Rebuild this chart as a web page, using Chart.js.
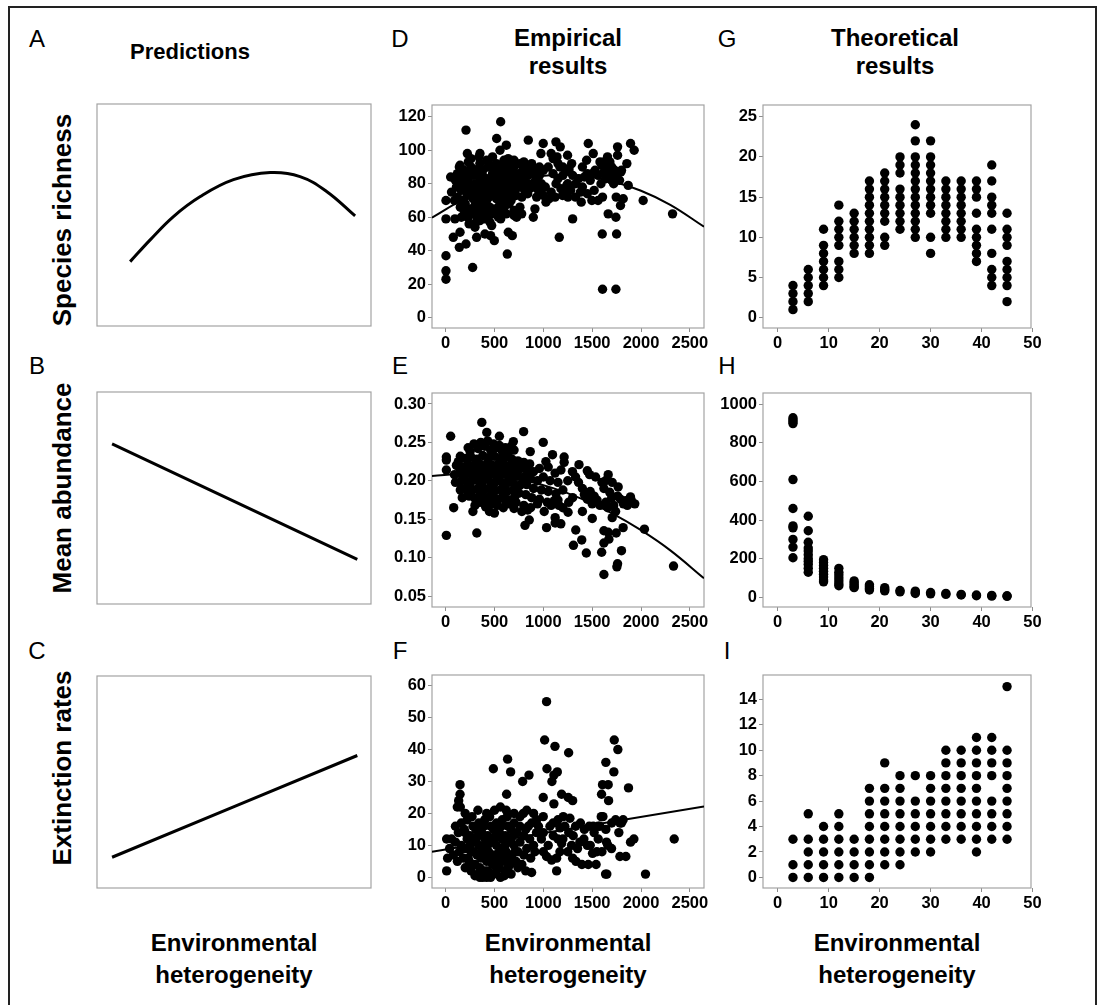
<!DOCTYPE html>
<html>
<head>
<meta charset="utf-8">
<script src="https://cdn.jsdelivr.net/npm/chart.js@4.4.1/dist/chart.umd.min.js"></script>
<style>
  body { margin: 0; background: #fff; }
  #fig { position: relative; width: 1100px; height: 1005px; overflow: hidden; background: #fff;
         font-family: "Liberation Sans", Arial, sans-serif; color: #000; }
  .frame { position: absolute; left: 8px; top: 6px; width: 1085px; height: 1020px; border: 2px solid #222; }
  .t { position: absolute; transform: translate(-50%, -50%); line-height: 1; white-space: nowrap; }
  .letter { font-size: 24px; }
  .head { font-size: 24px; font-weight: bold; }
  .row { font-size: 26px; font-weight: bold; transform: translate(-50%, -50%) rotate(-90deg); }
  canvas { position: absolute; }
</style>
</head>
<body>
<div id="fig">
  <div class="frame"></div>
  <div class="t letter" style="left:37px;top:39px">A</div>
  <div class="t letter" style="left:400px;top:39px">D</div>
  <div class="t letter" style="left:727px;top:39px">G</div>
  <div class="t letter" style="left:37px;top:366px">B</div>
  <div class="t letter" style="left:400px;top:366px">E</div>
  <div class="t letter" style="left:727px;top:366px">H</div>
  <div class="t letter" style="left:37px;top:651px">C</div>
  <div class="t letter" style="left:400px;top:651px">F</div>
  <div class="t letter" style="left:727px;top:651px">I</div>

  <div class="t head" style="left:190px;top:52px;font-size:22px">Predictions</div>
  <div class="t head" style="left:568px;top:38px">Empirical</div>
  <div class="t head" style="left:568px;top:66px">results</div>
  <div class="t head" style="left:895px;top:38px">Theoretical</div>
  <div class="t head" style="left:895px;top:66px">results</div>

  <div class="t row" style="left:62px;top:220px">Species richness</div>
  <div class="t row" style="left:62px;top:488px">Mean abundance</div>
  <div class="t row" style="left:62px;top:768px">Extinction rates</div>

  <div class="t head" style="left:234px;top:943px">Environmental</div>
  <div class="t head" style="left:234px;top:975px">heterogeneity</div>
  <div class="t head" style="left:568px;top:943px">Environmental</div>
  <div class="t head" style="left:568px;top:975px">heterogeneity</div>
  <div class="t head" style="left:897px;top:943px">Environmental</div>
  <div class="t head" style="left:897px;top:975px">heterogeneity</div>
</div>
<script>
// ---- predictions (A-C), unitless 0..10 boxes
const predRichness = [[1.21, 2.9], [1.94, 3.88], [2.79, 4.93], [3.77, 5.83], [4.98, 6.59], [6.32, 6.91], [7.41, 6.73], [8.38, 6.06], [9.42, 4.96]];
const predAbundance = [[0.55, 7.55], [9.5, 2.1]];
const predExtinction = [[0.55, 1.45], [9.5, 6.25]];

// ---- empirical (D-F): [heterogeneity, value]
const richnessEmp = [
  [208,112],[563,117],[522,107],[222,98],[351,98],[341,96],[621,103],[556,100],[597,94],[846,106],[999,104],[975,98],
  [1129,105],[1173,102],[1248,97],[1262,89],[1460,104],[1511,98],[1443,94],[1657,96],[1760,102],[1760,97],[1893,104],
  [1930,100],[1855,92],[1794,87],[1681,93],[1869,79],[2022,70],[2323,62],[1818,71],[1790,67],[1746,72],[1743,60],
  [1750,50],[1603,50],[1664,62],[1606,72],[1606,17],[1743,17],[1497,70],[1388,69],[1300,59],[1163,48],[1252,72],
  [1197,73],[914,65],[897,60],[931,72],[1027,69],[726,60],[778,62],[641,51],[682,49],[631,38],[563,59],[498,46],
  [460,49],[402,50],[317,48],[276,30],[471,55],[454,57],[396,59],[300,56],[225,60],[208,44],[140,42],[147,51],[78,48],
  [95,59],[188,64],[3,59],[3,70],[3,37],[3,28],[3,23],[51,84],[147,91],[170,88],[232,93],
  [140,90],[300,88],[340,89],[380,88],[430,90],[460,91],[520,92],[560,89],[610,88],[650,91],[700,90],[760,92],[820,91],
  [870,89],[930,88],[1050,90],[1100,95],[1150,92],[1200,90],
  [100,82],[150,85],[180,84],[230,83],[280,85],[330,86],[390,84],[440,83],[480,86],[530,86],[580,84],[630,86],[680,85],
  [750,86],[800,84],[840,85],[900,86],[960,85],[1000,88],[1100,86],[1150,83],[1200,85],[1260,88],[1290,92],
  [110,78],[170,80],[200,80],[250,79],[300,80],[350,82],[400,80],[450,79],[500,82],[550,80],[600,79],[650,82],[700,80],
  [730,82],[780,80],[850,80],[920,82],[980,80],[1020,78],[1130,80],[1240,79],
  [160,76],[210,77],[260,76],[310,77],[360,78],[410,76],[460,76],[510,77],[560,77],[610,76],[660,77],[710,76],[760,78],
  [810,76],[860,77],[900,78],[950,76],[1080,75],[1180,77],
  [120,72],[170,70],[220,73],[250,74],[280,71],[320,74],[370,72],[420,70],[470,73],[520,71],[570,74],[620,72],[670,70],
  [720,73],[780,72],[840,74],[1000,73],[1060,71],[1120,72],[1230,74],
  [60,75],[90,70],[150,66],[200,68],[250,65],[300,67],[330,68],[350,64],[400,68],[450,66],[500,65],[550,67],[600,66],
  [650,68],[700,64],[760,66],
  [230,60],[270,64],[280,62],[320,58],[380,61],[430,59],[480,62],[540,60],[700,61],[240,56],[300,54],
  [260,95],[420,94],[480,96],[640,95],[700,94],[800,93],[880,92],[120,86],[190,88],[260,90],[350,92],[500,88],[590,91],
  [680,88],[790,88],[850,86],[420,82],[470,82],[520,80],[570,82],[620,80],[670,78],[720,78],[240,86],[330,78],[390,74],
  [440,72],[490,74],[540,74],[590,70],[640,74],[690,74],[360,70],[410,64],[460,62],[520,63],[580,63],[620,62],[300,62],
  [350,58],[200,62],[160,60],
  [1300,85],[1330,80],[1360,83],[1400,78],[1420,84],[1450,86],[1480,82],[1500,86],[1530,88],[1560,85],[1590,80],
  [1600,91],[1620,87],[1640,83],[1660,89],[1680,86],[1700,82],[1720,80],[1730,88],[1750,84],[1780,82],[1400,90],
  [1380,75],[1800,88],[1620,93],[1700,90],[930,80],[960,90],[1080,98],[1140,96],[1170,90],[1250,80],[1280,76],
  [1330,72],[1450,74],[1520,76],[1560,70],[1580,93]
];
const richnessFit = [[-140,59.7],[200,71.2],[500,78.5],[800,83.1],[1100,85.2],[1400,84.7],[1700,81.5],[2000,75.8],[2300,67.4],[2645,54.3]];

const abundanceEmp = [
  [51,0.258],[370,0.276],[798,0.264],[999,0.250],[421,0.263],[7,0.129],[7,0.231],[7,0.227],[7,0.214],[82,0.165],
  [319,0.132],[448,0.160],[499,0.158],[279,0.160],[812,0.142],[856,0.149],[1033,0.139],[1009,0.160],[1121,0.152],
  [1179,0.144],[1121,0.145],[1253,0.159],[1308,0.116],[1332,0.136],[1393,0.123],[1440,0.106],[1501,0.151],[1597,0.107],
  [1620,0.078],[1620,0.119],[1671,0.124],[1664,0.133],[1620,0.135],[1746,0.132],[1760,0.092],[1753,0.088],[1800,0.109],
  [1817,0.139],[1705,0.152],[2035,0.137],[2333,0.089],[1936,0.170],[1892,0.179],[1841,0.174],[1766,0.192],[1705,0.198],
  [1664,0.208],[1637,0.200],[1535,0.205],[1474,0.208],[1450,0.213],[1365,0.221],[1298,0.212],[1213,0.224],[1094,0.234],
  [1213,0.231],[1026,0.225],[866,0.238],[693,0.251],[550,0.258],
  [250,0.238],[330,0.242],[400,0.245],[460,0.240],[520,0.243],[580,0.238],[640,0.236],[700,0.240],
  [150,0.232],[200,0.229],[260,0.231],[320,0.228],[380,0.233],[440,0.230],[500,0.232],[560,0.229],[620,0.231],[680,0.228],
  [740,0.226],[800,0.224],[860,0.222],
  [110,0.220],[170,0.218],[230,0.221],[290,0.219],[350,0.222],[410,0.218],[470,0.221],[530,0.219],[590,0.222],[650,0.218],
  [710,0.220],[770,0.216],[830,0.214],[900,0.212],[960,0.216],[1050,0.218],[1120,0.210],[1180,0.214],
  [90,0.208],[140,0.210],[200,0.212],[260,0.209],[320,0.211],[380,0.208],[440,0.212],[500,0.209],[560,0.211],[620,0.208],
  [680,0.210],[740,0.206],[800,0.205],[870,0.203],[940,0.200],[1000,0.205],[1070,0.200],[1150,0.198],[1250,0.200],
  [100,0.198],[160,0.200],[220,0.198],[280,0.201],[340,0.199],[400,0.202],[460,0.198],[520,0.200],[580,0.197],[640,0.199],
  [700,0.196],[760,0.194],[830,0.195],[900,0.190],[980,0.188],[1050,0.186],[1130,0.183],[1200,0.188],
  [150,0.188],[210,0.190],[270,0.187],[330,0.190],[390,0.188],[450,0.191],[510,0.187],[570,0.189],[630,0.186],[690,0.188],
  [750,0.184],[820,0.182],[880,0.178],[960,0.176],[1040,0.172],[1110,0.174],[1160,0.168],
  [170,0.178],[240,0.180],[300,0.177],[360,0.181],[420,0.178],[480,0.180],[540,0.176],[600,0.179],[660,0.175],[720,0.172],
  [800,0.168],[870,0.165],[940,0.170],
  [300,0.168],[350,0.172],[410,0.166],[470,0.170],[530,0.168],[590,0.165],[650,0.170],[700,0.164],[780,0.160],[840,0.162],
  [130,0.225],[230,0.243],[290,0.248],[360,0.250],[430,0.252],[490,0.248],[550,0.246],[610,0.243],[670,0.245],[190,0.205],
  [250,0.195],[310,0.203],[370,0.196],[430,0.204],[490,0.195],[550,0.204],[610,0.193],[670,0.202],[730,0.212],[790,0.198],
  [850,0.208],[250,0.215],[310,0.225],[370,0.215],[430,0.224],[490,0.214],[550,0.224],[610,0.215],[670,0.222],[230,0.185],
  [350,0.185],[470,0.184],[590,0.183],[710,0.180],[160,0.190],[400,0.170],[520,0.176],[620,0.172],
  [1330,0.205],[1360,0.198],[1400,0.190],[1420,0.182],[1450,0.176],[1480,0.186],[1500,0.170],[1520,0.180],[1550,0.175],
  [1580,0.168],[1600,0.198],[1620,0.190],[1640,0.172],[1660,0.165],[1680,0.185],[1700,0.178],[1720,0.168],[1740,0.160],
  [1760,0.180],[1790,0.176],[1820,0.170],[1860,0.168],[1900,0.175],[1400,0.160],[1300,0.178],[1260,0.172],[1200,0.165],
  [1150,0.175],[1080,0.168]
];
const abundanceFit = [[-140,0.2063],[200,0.2088],[500,0.2067],[800,0.2006],[1100,0.1904],[1400,0.1762],[1700,0.158],[2000,0.1357],[2300,0.1094],[2645,0.073]];

const extinctionEmp = [
  [1033,55],[1013,43],[1119,41],[1259,39],[1726,43],[1763,40],[1640,36],[1722,33],[1606,29],[1664,29],[1596,26],[1668,24],
  [1872,28],[634,37],[665,33],[488,34],[1037,34],[1143,33],[1108,32],[1088,30],[853,32],[788,30],[624,26],[147,29],
  [147,26],[133,24],[119,22],[999,25],[1108,23],[1187,26],[1255,25],[1300,24],[10,12],[10,2],[2340,12],[2046,1],
  [1637,1],[1650,1],[1136,2],[880,1.5],[1927,12],[1893,11],[1784,6.5],[1845,6.5],[1773,14],[1784,17],[1817,18],
  [1698,9],[1647,11],[1562,12],[1548,8],[1579,16],[1593,19],[1511,16],[1415,12],[1374,11],[1450,10],[1460,4],[1395,4],
  [1334,5],[1504,7.5],[1306,13],[1289,10],[1272,18.5],[1204,19],[1170,15.5],[1187,10.6],[1170,8],[1136,6],[1085,5.4],
  [1033,6.5],[1102,13],[1068,16],[999,19],[931,18],[914,8],[846,16],[795,20],
  [150,22],[200,20],[330,21],[420,20],[500,21],[560,22],[620,21],[700,20],[760,19],[830,21],[900,20],
  [100,16],[160,17],[220,18],[280,16],[340,17],[400,18],[460,16],[520,17],[580,18],[640,16],[700,17],[760,16],[820,15],
  [880,17],[950,16],
  [60,12],[130,14],[190,15],[250,13],[310,15],[370,14],[430,13],[490,15],[550,14],[610,13],[670,15],[730,14],[800,13],
  [860,12],[930,14],
  [40,9],[100,11],[160,10],[220,12],[280,11],[340,10],[400,12],[460,11],[520,10],[580,12],[640,11],[700,10],[760,11],
  [830,9],[900,10],[980,12],
  [80,7],[140,8],[200,9],[260,8],[320,7],[380,9],[440,8],[500,7],[560,9],[620,8],[680,7],[740,8],[800,7],[870,6],
  [20,6],[120,5],[180,6],[240,5],[300,4],[360,6],[420,5],[480,4],[540,6],[600,5],[660,4],[720,5],[780,4],
  [200,3],[260,2],[330,1],[380,0],[430,2],[490,1],[550,3],[610,2],[670,1],[740,3],[820,2],
  [350,0],[420,0],[560,0],
  [200,14],[270,19],[330,13],[390,16],[450,19],[510,13],[570,16],[630,19],[690,13],[250,10],[310,12],[370,8],[430,10],
  [490,12],[550,8],[610,10],[670,12],[230,6],[290,8],[350,3],[410,7],[470,6],[530,4],[590,7],[650,6],[710,8],[280,4],
  [400,2],[520,2],[640,3],[300,0.5],[460,0],[600,0.5],
  [1150,18],[1220,16],[1260,14],[1330,16],[1380,17],[1420,15],[1470,16],[1520,14],[1560,16],[1610,19],[1640,15],
  [1700,17],[1740,18],[1800,17],[1200,12],[1250,8],[1350,9],[1480,10],[1600,8],[1660,10],[1000,14],[1050,10],
  [1000,8],[1100,17],[1150,12],[1300,6],[1540,4]
];
const extinctionFit = [[-140,8.0],[2645,22.2]];

// ---- theoretical (G-I): one column of values per heterogeneity level
const theoX = [3, 6, 9, 12, 15, 18, 21, 24, 27, 30, 33, 36, 39, 42, 45];
const richnessTheo = [
  [1,2,3,4], [2,3,4,5,6], [4,5,6,7,8,9,11], [5,6,7,9,10,11,12,14], [8,9,10,11,12,13],
  [8,9,10,11,12,13,14,15,16,17], [9,10,12,13,14,15,16,17,18], [11,12,13,14,15,16,18,19,20],
  [10,11,12,13,14,15,16,17,18,19,20,22,24], [8,10,13,14,15,16,17,18,19,20,22], [10,11,12,13,14,15,16,17],
  [10,11,12,13,14,15,16,17], [7,8,9,10,11,13,15,16,17], [4,5,6,8,11,13,14,15,17,19], [2,4,5,6,7,9,10,11,13]
];
const abundanceTheo = [
  [930,920,910,900,610,460,370,360,300,260,205], [420,345,285,255,240,220,200,185,170,150,130],
  [195,180,165,150,135,120,105,90,80], [150,130,115,100,85,70,60], [85,75,65,55,50], [65,55,45,38],
  [50,40,33], [35,28], [32,25,20], [25,18], [20,15], [15,12], [12,8], [10,6], [8,5]
];
const extinctionTheo = [
  [0,1,3], [0,1,2,3,5], [0,1,2,3,4], [0,1,2,3,4,5], [0,1,2,3], [0,1,2,3,4,5,6,7], [1,2,3,4,5,6,7,9],
  [1,2,3,4,5,6,7,8], [2,3,4,5,6,8], [2,3,4,5,6,7,8], [3,4,5,6,7,8,9,10], [3,4,5,6,7,8,9,10],
  [2,3,4,5,6,7,8,9,10,11], [3,4,5,6,8,9,10,11], [3,4,5,6,7,8,9,10,15]
];

const empTicksX = [0, 500, 1000, 1500, 2000, 2500];
const theoTicksX = [0, 10, 20, 30, 40, 50];
const ticksD = [0, 20, 40, 60, 80, 100, 120];
const ticksE = [0.05, 0.10, 0.15, 0.20, 0.25, 0.30];
const ticksF = [0, 10, 20, 30, 40, 50, 60];
const ticksG = [0, 5, 10, 15, 20, 25];
const ticksH = [0, 200, 400, 600, 800, 1000];
const ticksI = [0, 2, 4, 6, 8, 10, 12, 14];

const FONT = '"Liberation Sans", Arial, sans-serif';
const PAD = { l: 64, t: 12, r: 22, b: 30 };
const fig = document.getElementById('fig');

const boxPlugin = {
  id: 'plotBox',
  beforeDatasetsDraw(chart) {
    const a = chart.chartArea, ctx = chart.ctx;
    ctx.save();
    ctx.strokeStyle = '#a3a3a3';
    ctx.lineWidth = 1.2;
    ctx.strokeRect(a.left, a.top, a.right - a.left, a.bottom - a.top);
    ctx.restore();
  }
};

function axis(min, max, ticks, horizontal, fmt) {
  const show = ticks.length > 0;
  return {
    type: 'linear', min, max,
    afterBuildTicks: s => { s.ticks = ticks.map(v => ({ value: v })); },
    afterFit: s => {
      if (horizontal) s.height = PAD.b; else s.width = PAD.l;
      s.paddingLeft = s.paddingRight = s.paddingTop = s.paddingBottom = 0;
    },
    grid: { display: show, drawOnChartArea: false, drawTicks: true, tickLength: 4, tickColor: '#8c8c8c' },
    border: { display: false },
    ticks: {
      display: show, autoSkip: false, maxRotation: 0, padding: 2, color: '#000',
      font: { family: FONT, size: 16.5, weight: 'bold' },
      callback: v => fmt ? fmt(v) : String(v)
    }
  };
}

const pts = arr => arr.map(p => ({ x: p[0], y: p[1] }));
const columns = (xs, cols) => xs.flatMap((x, i) => cols[i].map(y => ({ x, y })));

function dots(data) {
  return { type: 'scatter', data, pointRadius: 4.7, pointBackgroundColor: '#000', pointBorderWidth: 0, showLine: false, order: 2 };
}
function curve(data, width) {
  return { type: 'line', data, borderColor: '#000', borderWidth: width, pointRadius: 0, tension: 0.4, fill: false, order: 1 };
}

function panel(box, datasets, xs, ys) {
  const cv = document.createElement('canvas');
  const w = box.r - box.l + PAD.l + PAD.r, h = box.b - box.t + PAD.t + PAD.b;
  cv.width = w; cv.height = h;
  cv.style.left = (box.l - PAD.l) + 'px';
  cv.style.top = (box.t - PAD.t) + 'px';
  cv.style.width = w + 'px';
  cv.style.height = h + 'px';
  fig.appendChild(cv);
  new Chart(cv, {
    type: 'scatter',
    data: { datasets },
    options: {
      responsive: false, animation: false, devicePixelRatio: 1,
      layout: { padding: { left: 0, top: PAD.t, right: PAD.r, bottom: 0 } },
      plugins: { legend: { display: false }, tooltip: { enabled: false } },
      scales: { x: xs, y: ys }
    },
    plugins: [boxPlugin]
  });
}

const colA = { l: 97, r: 371 }, colD = { l: 432, r: 704 }, colG = { l: 763, r: 1031 };
const row1 = { t: 105, b: 328 }, row2 = { t: 393, b: 607 }, row3 = { t: 675, b: 888 };
const two = v => v.toFixed(2);

// predictions
panel({ ...colA, t: 104, b: 326 }, [curve(pts(predRichness), 3)], axis(0, 10, [], true), axis(0, 10, [], false));
panel({ ...colA, t: 392, b: 604 }, [curve(pts(predAbundance), 3)], axis(0, 10, [], true), axis(0, 10, [], false));
panel({ ...colA, t: 676, b: 888 }, [curve(pts(predExtinction), 3)], axis(0, 10, [], true), axis(0, 10, [], false));

// empirical
panel({ ...colD, ...row1 }, [dots(pts(richnessEmp)), curve(pts(richnessFit), 2)],
  axis(-140, 2645, empTicksX, true), axis(-6.15, 127, ticksD, false));
panel({ ...colD, ...row2 }, [dots(pts(abundanceEmp)), curve(pts(abundanceFit), 2)],
  axis(-140, 2645, empTicksX, true), axis(0.0357, 0.3143, ticksE, false, two));
panel({ ...colD, ...row3 }, [dots(pts(extinctionEmp)), curve(pts(extinctionFit), 2)],
  axis(-140, 2645, empTicksX, true), axis(-3.35, 63.35, ticksF, false));

// theoretical
panel({ ...colG, ...row1 }, [dots(columns(theoX, richnessTheo))],
  axis(-2.88, 49.7, theoTicksX, true), axis(-1.28, 26.46, ticksG, false));
panel({ ...colG, ...row2 }, [dots(columns(theoX, abundanceTheo))],
  axis(-2.88, 49.7, theoTicksX, true), axis(-50.3, 1058.5, ticksH, false));
panel({ ...colG, ...row3 }, [dots(columns(theoX, extinctionTheo))],
  axis(-2.88, 49.7, theoTicksX, true), axis(-0.83, 15.91, ticksI, false));
</script>
</body>
</html>
